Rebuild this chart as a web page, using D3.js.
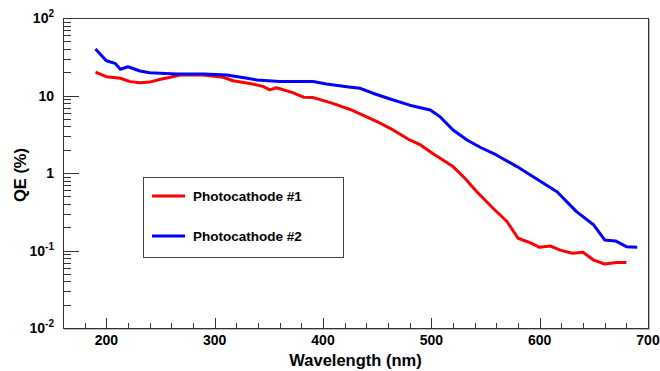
<!DOCTYPE html>
<html>
<head>
<meta charset="utf-8">
<script src="https://cdn.jsdelivr.net/npm/d3@7"></script>
<style>
  body { margin: 0; background: #fff; }
  svg { display: block; font-family: "Liberation Sans", Arial, sans-serif; font-weight: bold; }
</style>
</head>
<body>
<svg id="chart" width="660" height="371"></svg>
<script>
// wavelength (nm) / QE (%)
const pc1Wave = [190, 200, 213, 222, 231, 240, 250, 259, 268, 289, 308, 317, 335, 345, 351, 357, 372, 382, 391, 409, 425, 450, 462, 480, 490, 502, 520, 531, 542, 557, 570, 580, 591, 600, 610, 619, 630, 640, 650, 660, 671, 680];
const pc1QE = [20, 17.5, 16.7, 15.1, 14.6, 14.9, 16.2, 17.2, 18.4, 18.4, 17.2, 15.5, 14.1, 13.0, 11.8, 12.6, 10.9, 9.5, 9.4, 7.9, 6.6, 4.6, 3.77, 2.67, 2.3, 1.76, 1.21, 0.855, 0.574, 0.351, 0.235, 0.144, 0.126, 0.11, 0.114, 0.101, 0.092, 0.095, 0.075, 0.067, 0.07, 0.07];

const pc2Wave = [190, 200, 208, 213, 220, 231, 240, 250, 265, 290, 311, 330, 339, 360, 391, 403, 422, 434, 446, 462, 480, 499, 508, 520, 533, 545, 560, 579, 594, 616, 634, 650, 660, 670, 680, 690];
const pc2QE = [39.8, 28.1, 26, 21.8, 23.5, 20.7, 19.7, 19.4, 18.9, 18.9, 18.4, 16.7, 15.85, 15.2, 15.2, 14.1, 13.0, 12.4, 10.7, 9.0, 7.5, 6.5, 5.33, 3.59, 2.67, 2.15, 1.71, 1.21, 0.895, 0.574, 0.317, 0.213, 0.137, 0.133, 0.112, 0.11];

const seriesNames = ["Photocathode #1", "Photocathode #2"];
const seriesColors = ["#ff0000", "#0000ff"];
const xTicks = [200, 300, 400, 500, 600, 700];
const yTicks = [0.01, 0.1, 1, 10, 100];
const yTickLabels = [["10", "-2"], ["10", "-1"], ["1", ""], ["10", ""], ["10", "2"]];

const svg = d3.select("#chart");
const m = { left: 63, right: 648, top: 18, bottom: 328 };

const x = d3.scaleLinear().domain([160, 700]).range([m.left, m.right]);
const y = d3.scaleLog().domain([0.01, 100]).range([m.bottom, m.top]);

// frame with a faint shadow like the original
svg.append("rect")
  .attr("x", m.left + 1.5).attr("y", m.top + 1.5)
  .attr("width", m.right - m.left).attr("height", m.bottom - m.top)
  .attr("fill", "none").attr("stroke", "#bbb").attr("stroke-width", 1);
svg.append("rect")
  .attr("x", m.left + 0.5).attr("y", m.top + 0.5)
  .attr("width", m.right - m.left).attr("height", m.bottom - m.top)
  .attr("fill", "#fff").attr("stroke", "#333").attr("stroke-width", 1);

// x ticks, pointing up from the bottom edge
const xMinor = d3.range(180, 700, 20).filter(v => v % 100 !== 0);
svg.append("g").selectAll("line").data(xTicks).join("line")
  .attr("x1", d => Math.round(x(d)) + 0.5).attr("x2", d => Math.round(x(d)) + 0.5)
  .attr("y1", m.bottom).attr("y2", m.bottom - 10)
  .attr("stroke", "#333");
svg.append("g").selectAll("line").data(xMinor).join("line")
  .attr("x1", d => Math.round(x(d)) + 0.5).attr("x2", d => Math.round(x(d)) + 0.5)
  .attr("y1", m.bottom).attr("y2", m.bottom - 5)
  .attr("stroke", "#333");
svg.append("g").selectAll("text").data(xTicks).join("text")
  .attr("x", d => x(d)).attr("y", 345)
  .attr("text-anchor", "middle").attr("font-size", 14)
  .text(d => d);

// y ticks on a log scale
const yMinor = [];
[0.01, 0.1, 1, 10].forEach(dec => { for (let k = 2; k <= 9; k++) yMinor.push(dec * k); });
svg.append("g").selectAll("line").data(yTicks).join("line")
  .attr("x1", m.left).attr("x2", m.left + 16)
  .attr("y1", d => Math.round(y(d)) + 0.5).attr("y2", d => Math.round(y(d)) + 0.5)
  .attr("stroke", "#333");
svg.append("g").selectAll("line").data(yMinor).join("line")
  .attr("x1", m.left).attr("x2", m.left + 8)
  .attr("y1", d => Math.round(y(d)) + 0.5).attr("y2", d => Math.round(y(d)) + 0.5)
  .attr("stroke", "#333");

const yLab = svg.append("g").selectAll("text").data(yTicks).join("text")
  .attr("x", 54).attr("y", d => y(d) + 5)
  .attr("text-anchor", "end").attr("font-size", 14);
yLab.append("tspan").text((d, i) => yTickLabels[i][0]);
yLab.append("tspan")
  .attr("dy", -6).attr("font-size", 10)
  .text((d, i) => yTickLabels[i][1]);

// axis titles
svg.append("text")
  .attr("x", (m.left + m.right) / 2).attr("y", 366)
  .attr("text-anchor", "middle").attr("font-size", 16.5)
  .text("Wavelength (nm)");
svg.append("text")
  .attr("transform", "translate(26,175) rotate(-90)")
  .attr("text-anchor", "middle").attr("font-size", 16.5)
  .text("QE (%)");

// curves
const line = d3.line().x(d => x(d[0])).y(d => y(d[1]));
const series = [d3.zip(pc1Wave, pc1QE), d3.zip(pc2Wave, pc2QE)];
svg.append("g").selectAll("path").data(series).join("path")
  .attr("d", line)
  .attr("fill", "none")
  .attr("stroke", (d, i) => seriesColors[i])
  .attr("stroke-width", 3)
  .attr("stroke-linejoin", "round");

// legend
const leg = svg.append("g");
leg.append("rect")
  .attr("x", 143.5).attr("y", 177.5).attr("width", 200).attr("height", 80)
  .attr("fill", "#fff").attr("stroke", "#444");
const items = leg.selectAll("g").data(seriesNames).join("g")
  .attr("transform", (d, i) => `translate(0,${196 + i * 40})`);
items.append("line")
  .attr("x1", 152).attr("x2", 185)
  .attr("stroke", (d, i) => seriesColors[i]).attr("stroke-width", 3);
items.append("text")
  .attr("x", 193).attr("y", 5).attr("font-size", 13.5)
  .text(d => d);
</script>
</body>
</html>
